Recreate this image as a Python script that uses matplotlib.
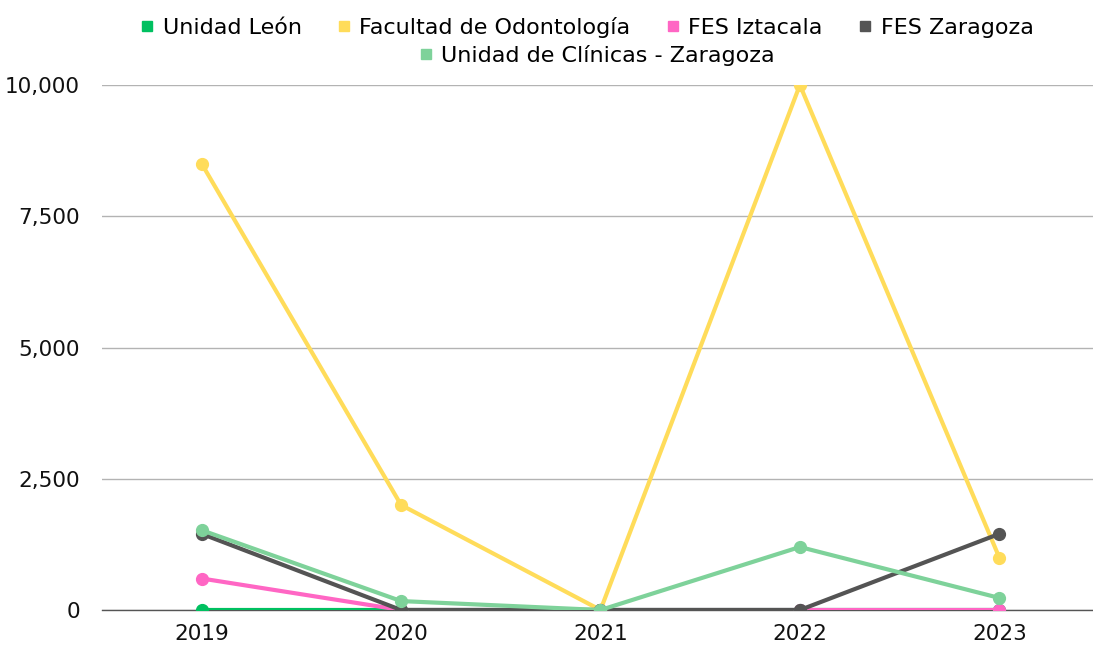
import numpy as np
import matplotlib.pyplot as plt
from matplotlib.lines import Line2D

years = ["2019", "2020", "2021", "2022", "2023"]
unidad_leon = [0, 0, 0, 0, 0]
facultad_odontologia = [8500, 2000, 0, 10000, 1000]
fes_iztacala = [600, 0, 0, 0, 0]
fes_zaragoza = [1450, 0, 0, 0, 1450]
unidad_clinicas = [1520, 170, 0, 1200, 230]

series = [
    ("Unidad León", unidad_leon, "#00c060"),
    ("Facultad de Odontología", facultad_odontologia, "#ffdc5a"),
    ("FES Iztacala", fes_iztacala, "#ff66c4"),
    ("FES Zaragoza", fes_zaragoza, "#545454"),
    ("Unidad de Clínicas - Zaragoza", unidad_clinicas, "#7ed29a"),
]

plt.rcParams['font.family'] = ['DejaVu Sans']

fig = plt.figure(figsize=(10.93, 6.45), dpi=100)
ax = fig.add_axes([102/1093, 1 - 610/645, 1 - 102/1093, 525/645])

x = np.arange(len(years))
for name, vals, col in series:
    ax.plot(x, vals, color=col, lw=3, marker="o", markersize=8.5, label=name, zorder=3)

ax.set_ylim(0, 10000)
ax.set_xlim(-0.5, 4.47)
ax.set_yticks([0, 2500, 5000, 7500, 10000])
ax.set_yticklabels(["0", "2,500", "5,000", "7,500", "10,000"])
ax.set_xticks(x)
ax.set_xticklabels(years)
ax.tick_params(axis="both", length=0, labelsize=15.5, colors="#111111")
ax.tick_params(axis="x", pad=10)
ax.tick_params(axis="y", pad=16)
ax.grid(axis="y", color="#b3b3b3", lw=1)
ax.set_axisbelow(True)
for s in ["top", "right", "left"]:
    ax.spines[s].set_visible(False)
ax.spines["bottom"].set_color("#555555")
ax.spines["bottom"].set_linewidth(1)

handles = [Line2D([], [], color=c, marker="s", markersize=7, lw=0) for _, _, c in series]
labels = [n for n, _, _ in series]
fig.legend(handles[:4], labels[:4], loc="upper center", bbox_to_anchor=(0.537, 1.005),
           ncol=4, frameon=False, fontsize=16, handlelength=0.6, handletextpad=0.4,
           columnspacing=1.6)
fig.legend(handles[4:], labels[4:], loc="upper center", bbox_to_anchor=(0.546, 0.962),
           ncol=1, frameon=False, fontsize=16, handlelength=0.6, handletextpad=0.4)

fig.savefig("out.png", dpi=100)
